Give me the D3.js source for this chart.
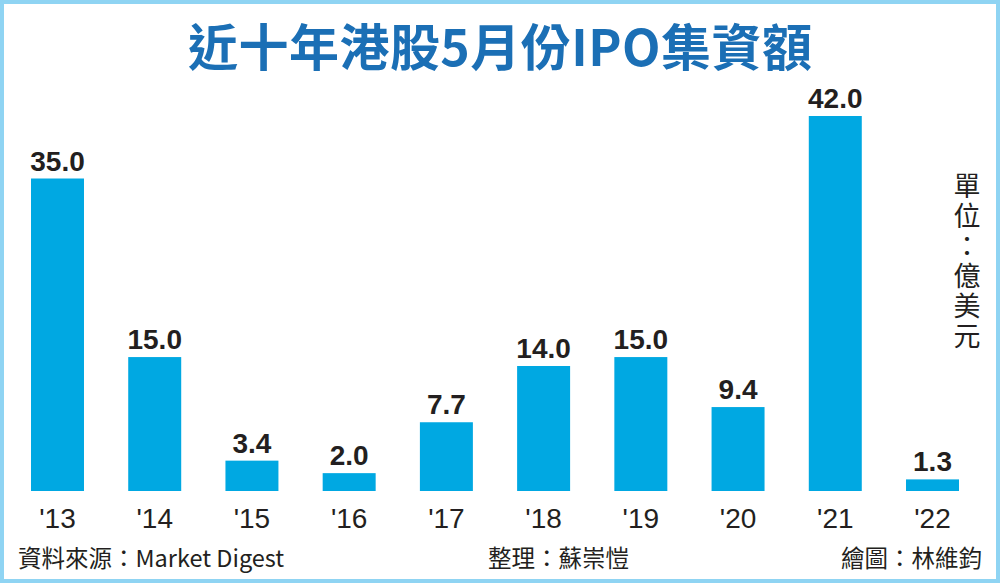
<!DOCTYPE html>
<html>
<head>
<meta charset="utf-8">
<script src="https://cdn.jsdelivr.net/npm/d3@7"></script>
<style>
  body { margin: 0; background: #fff; }
  svg { display: block; }
</style>
</head>
<body>
<script>
// data
const years = ["'13", "'14", "'15", "'16", "'17", "'18", "'19", "'20", "'21", "'22"];
const amounts = [35.0, 15.0, 3.4, 2.0, 7.7, 14.0, 15.0, 9.4, 42.0, 1.3];
const titleText = "近十年港股5月份IPO集資額";
const unitText = "單位：億美元";
const footerLeft = "資料來源：Market Digest";
const footerMid = "整理：蘇崇愷";
const footerRight = "繪圖：林維鈞";

const width = 1000;
const height = 583;

const svg = d3.select("body")
              .append("svg")
              .attr("width", width)
              .attr("height", height);

svg.append("rect")
   .attr("x", 2).attr("y", 2)
   .attr("width", width - 4).attr("height", height - 4)
   .attr("fill", "#fff")
   .attr("stroke", "#8fd4f3")
   .attr("stroke-width", 4);

const x = d3.scaleBand()
            .domain(years)
            .range([31, 959])
            .paddingInner(0.455)
            .paddingOuter(0);

const y = d3.scaleLinear()
            .domain([0, 42])
            .range([491, 116]);

svg.append("text")
   .attr("x", 188)
   .attr("y", 66)
   .attr("textLength", 624)
   .attr("lengthAdjust", "spacing")
   .attr("font-family", "'Noto Sans CJK TC', 'Noto Sans', sans-serif")
   .attr("font-weight", "bold")
   .attr("font-size", 50)
   .attr("fill", "#1b6fb5")
   .text(titleText);

svg.selectAll("rect.bar")
   .data(amounts)
   .enter()
   .append("rect")
   .attr("class", "bar")
   .attr("x", (d, i) => x(years[i]))
   .attr("y", d => y(d))
   .attr("width", x.bandwidth())
   .attr("height", d => y(0) - y(d))
   .attr("fill", "#00a8e2");

svg.selectAll("text.val")
   .data(amounts)
   .enter()
   .append("text")
   .attr("class", "val")
   .attr("x", (d, i) => x(years[i]) + x.bandwidth() / 2)
   .attr("y", d => y(d) - 8)
   .attr("text-anchor", "middle")
   .attr("font-family", "'Liberation Sans', Arial, sans-serif")
   .attr("font-weight", "bold")
   .attr("font-size", 28)
   .attr("fill", "#231f20")
   .text(d => d.toFixed(1));

const xAxis = svg.append("g")
                 .attr("transform", "translate(0,491)")
                 .call(d3.axisBottom(x).tickSize(0).tickPadding(17));
xAxis.select(".domain").remove();
xAxis.selectAll("text")
     .attr("font-family", "'Liberation Sans', Arial, sans-serif")
     .attr("font-size", 28)
     .attr("fill", "#231f20")
     .attr("dy", "0.71em");

// unit label, written top to bottom
svg.append("text")
   .attr("x", 967)
   .attr("y", 172)
   .style("writing-mode", "vertical-rl")
   .style("text-orientation", "upright")
   .attr("letter-spacing", 3)
   .attr("font-family", "'Noto Sans CJK TC', sans-serif")
   .attr("font-size", 27)
   .attr("fill", "#231f20")
   .text(unitText);

const footer = svg.append("g")
                  .attr("font-family", "'Noto Sans CJK TC', sans-serif")
                  .attr("font-size", 23.5)
                  .attr("fill", "#231f20");

footer.append("text").attr("x", 18).attr("y", 567).text(footerLeft);
footer.append("text").attr("x", 488).attr("y", 567).text(footerMid);
footer.append("text").attr("x", 982).attr("y", 567).attr("text-anchor", "end").text(footerRight);
</script>
</body>
</html>
